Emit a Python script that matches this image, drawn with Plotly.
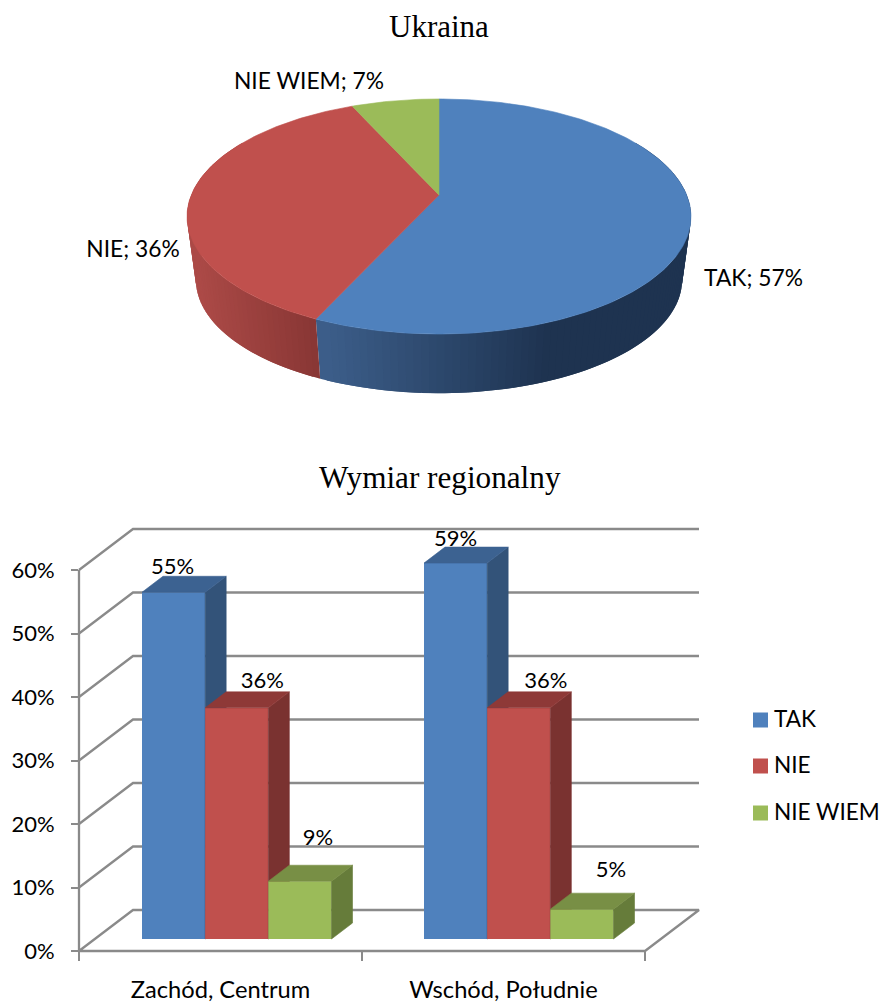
import math
import plotly.graph_objects as go

# ---------- data ----------
PIE_TITLE = "Ukraina"
BAR_TITLE = "Wymiar regionalny"
SERIES = ["TAK", "NIE", "NIE WIEM"]
PIE_VALUES = [56.8, 36.5, 6.7]
PIE_LABELS = ["57%", "36%", "7%"]
CATEGORIES = ["Zachód, Centrum", "Wschód, Południe"]
TAK_VALUES = [54.6, 59.2]
NIE_VALUES = [36.4, 36.4]
NIE_WIEM_VALUES = [9.1, 4.7]
BAR_LABELS = [["55%", "59%"], ["36%", "36%"], ["9%", "5%"]]
Y_TICKS = [0, 10, 20, 30, 40, 50, 60]

# ---------- styling ----------
W, H = 882, 1005
FRONT = ["#4F81BD", "#C0504D", "#9BBB59"]
BAR_TOP = ["#3C6291", "#8E3937", "#788F45"]
BAR_SIDE = ["#335379", "#7A3230", "#667C3A"]
GRID = "#8A8A8A"
SANS = "Lato"
SERIF = "Liberation Serif"
LABEL_SIZE = 22

# pie geometry (perspective disc)
CX, CY = 439, 195
A, B, K = 113.6, 247.7, 0.183
DEPTH, SHRINK = 64, 0.965


def disc(theta, scale=1.0, drop=0.0):
    u, v = math.sin(theta), math.cos(theta)
    d = 1 + K * v
    return CX + scale * B * u / d, CY + drop - scale * A * v / d


def lerp_color(c1, c2, t):
    t = max(0.0, min(1.0, t))
    return "rgb(%d,%d,%d)" % tuple(round(a + (b - a) * t) for a, b in zip(c1, c2))


fig = go.Figure()
fig.update_layout(
    width=W, height=H, margin=dict(l=0, r=0, t=0, b=0, pad=0, autoexpand=False),
    paper_bgcolor="white", plot_bgcolor="rgba(0,0,0,0)", showlegend=False,
    hovermode=False, barmode="group", bargap=0.328, bargroupgap=0,
)


def poly(xs, ys, fill, **kw):
    fig.add_trace(go.Scatter(
        x=xs, y=ys, mode="lines", fill="toself", fillcolor=fill,
        line=dict(color=fill, width=kw.pop("lw", 0.6)), hoverinfo="skip", **kw))


# ---------- pie: side wall strips, from the slice angles ----------
total = sum(PIE_VALUES)
edges = [0.0]
for v in PIE_VALUES:
    edges.append(edges[-1] + v / total * 2 * math.pi)

SIDE_GRAD = [
    lambda x: lerp_color((60, 94, 138), (30, 51, 80), (x - 316) / 225),
    lambda x: lerp_color((172, 74, 71), (136, 54, 52), (x - 195) / 121),
]
VIS_A, VIS_B = math.radians(60), math.radians(300)
for s in range(2):
    a0, a1 = max(edges[s], VIS_A), min(edges[s + 1], VIS_B)
    n = max(2, int((a1 - a0) / math.radians(1.5)))
    for i in range(n):
        t0 = a0 + (a1 - a0) * i / n
        t1 = a0 + (a1 - a0) * (i + 1) / n
        # each strip runs under the next one, so no seam shows between them
        t2 = min(a1, t1 + (a1 - a0) / n) if s == 1 else t1
        t3 = max(a0, t0 - (a1 - a0) / n) if s == 0 else t0
        p0, p1 = disc(t3), disc(t2)
        q0, q1 = disc(t3, SHRINK, DEPTH), disc(t2, SHRINK, DEPTH)
        mid = (disc(t0)[0] + disc(t1)[0]) / 2
        poly([p0[0], p1[0], q1[0], q0[0], p0[0]], [p0[1], p1[1], q1[1], q0[1], p0[1]],
             SIDE_GRAD[s](mid), lw=0)

# ---------- pie: top face ----------
for s in range(3):
    n = max(4, int((edges[s + 1] - edges[s]) / math.radians(1)))
    pts = [disc(edges[s] + (edges[s + 1] - edges[s]) * i / n) for i in range(n + 1)]
    poly([CX] + [p[0] for p in pts] + [CX], [CY] + [p[1] for p in pts] + [CY], FRONT[s], name=SERIES[s])

PIE_LABEL_POS = [(753.5, 280), (133, 251), (309, 83)]
fig.add_trace(go.Scatter(
    x=[p[0] for p in PIE_LABEL_POS], y=[p[1] for p in PIE_LABEL_POS], mode="text",
    text=[f"{n}; {v}" for n, v in zip(SERIES, PIE_LABELS)],
    textposition="middle center", textfont=dict(family=SANS, size=22.8, color="black"),
    hoverinfo="skip"))

# ---------- 3-D chart walls, from the value axis ticks ----------
AX_L, AX_R, AX_0, PX_PER = 79, 645, 951, 6.35
WALL_DX, WALL_DY = 54, 41


def ypx(v):
    return AX_0 - v * PX_PER


for t in Y_TICKS:
    y = ypx(t)
    xs = [AX_L, AX_L + WALL_DX, AX_R + WALL_DX]
    ys = [y, y - WALL_DY, y - WALL_DY]
    if t == Y_TICKS[0]:
        xs += [AX_R, AX_L, AX_L]
        ys += [y, y, ypx(Y_TICKS[-1])]
    fig.add_trace(go.Scatter(x=xs, y=ys, mode="lines", line=dict(color=GRID, width=2.3),
                             hoverinfo="skip"))

# ---------- legend keys ----------
LEG_X, LEG_TEXT_X, LEG_Y = 760.5, 774, [720, 766, 813]
for i, name in enumerate(SERIES):
    fig.add_trace(go.Scatter(
        x=[LEG_X], y=[LEG_Y[i]], mode="markers", name=name,
        marker=dict(symbol="square", size=15, color=FRONT[i]), hoverinfo="skip"))
    fig.add_trace(go.Scatter(
        x=[LEG_TEXT_X], y=[LEG_Y[i] + 1.5], mode="text", text=[name], textposition="middle right",
        textfont=dict(family=SANS, size=22.6, color="black"), hoverinfo="skip"))

# ---------- real value / category axes ----------
fig.add_trace(go.Scatter(x=CATEGORIES, y=[0, 0], mode="none", xaxis="x2", yaxis="y2", hoverinfo="skip"))

# ---------- bars ----------
UNIT_X = 282.0
BAR_X0, BAR_Y0 = 236.75, 939
BAR_W = 0.224
DX, DY = 21 / UNIT_X, 16 / PX_PER
POS = [0, 1]
VALUES = [TAK_VALUES, NIE_VALUES, NIE_WIEM_VALUES]

for g in POS:
    for i in range(3):
        val = VALUES[i][g]
        left = g + (i - 1.5) * BAR_W
        right = left + BAR_W
        poly([right, right + DX, right + DX, right, right],
             [0, DY, val + DY, val, 0], BAR_SIDE[i], xaxis="x3", yaxis="y3", zorder=1 + i)
        poly([left, right, right + DX, left + DX, left],
             [val, val, val + DY, val + DY, val], BAR_TOP[i], xaxis="x3", yaxis="y3", zorder=1 + i)

for i, name in enumerate(SERIES):
    fig.add_trace(go.Bar(
        x=POS, y=VALUES[i], name=name, xaxis="x3", yaxis="y3", zorder=1 + i,
        marker=dict(color=FRONT[i], line=dict(width=0)), hoverinfo="skip"))

# data-label nudges, as placed by hand in the reference: series x group
LABEL_DX_PX = [[-1, 0], [25.5, 27], [18, 29]]
LABEL_LIFT_PX = [[24, 23], [25, 25], [42, 38]]
for i in range(3):
    fig.add_trace(go.Scatter(
        x=[g + (i - 1) * BAR_W + LABEL_DX_PX[i][g] / UNIT_X for g in POS],
        y=[VALUES[i][g] + LABEL_LIFT_PX[i][g] / PX_PER for g in POS],
        mode="text", text=BAR_LABELS[i], textposition="middle center", zorder=10,
        textfont=dict(family=SANS, size=LABEL_SIZE, color="black"),
        xaxis="x3", yaxis="y3", hoverinfo="skip"))

fig.update_layout(
    xaxis=dict(domain=[0, 1], range=[0, W], visible=False, fixedrange=True),
    yaxis=dict(domain=[0, 1], range=[H, 0], visible=False, fixedrange=True),
    xaxis2=dict(
        domain=[AX_L / W, AX_R / W], anchor="y2", type="category", categoryarray=CATEGORIES,
        range=[-0.5, 1.5], tickson="boundaries", ticks="outside", ticklen=9, tickwidth=2,
        tickcolor=GRID, showline=False, showgrid=False, zeroline=False,
        tickfont=dict(family=SANS, size=23.7, color="black"), ticklabelstandoff=22,
        fixedrange=True),
    yaxis2=dict(
        domain=[(H - AX_0) / H, (H - ypx(60)) / H], anchor="x2", range=[0, 60],
        tickmode="array", tickvals=Y_TICKS, ticktext=[f"{t}%" for t in Y_TICKS],
        ticks="outside", ticklen=7, tickwidth=2, tickcolor=GRID, showline=False,
        showgrid=False, zeroline=False,
        tickfont=dict(family=SANS, size=LABEL_SIZE, color="black"), ticklabelstandoff=12,
        fixedrange=True),
    xaxis3=dict(domain=[0, 1], range=[-BAR_X0 / UNIT_X, (W - BAR_X0) / UNIT_X], anchor="y3",
                visible=False, fixedrange=True),
    yaxis3=dict(domain=[0, 1], range=[-(H - BAR_Y0) / PX_PER, BAR_Y0 / PX_PER], anchor="x3",
                visible=False, fixedrange=True),
    annotations=[
        dict(text=PIE_TITLE, x=439 / W, y=1 - 27 / H, xref="paper", yref="paper", showarrow=False,
             xanchor="center", yanchor="middle", font=dict(family=SERIF, size=31, color="black")),
        dict(text=BAR_TITLE, x=439.5 / W, y=1 - 477 / H, xref="paper", yref="paper", showarrow=False,
             xanchor="center", yanchor="middle", font=dict(family=SERIF, size=31.2, color="black")),
    ],
)

fig.write_html("out.html", config={"displayModeBar": False},
               post_script="document.body.style.margin='0';")
